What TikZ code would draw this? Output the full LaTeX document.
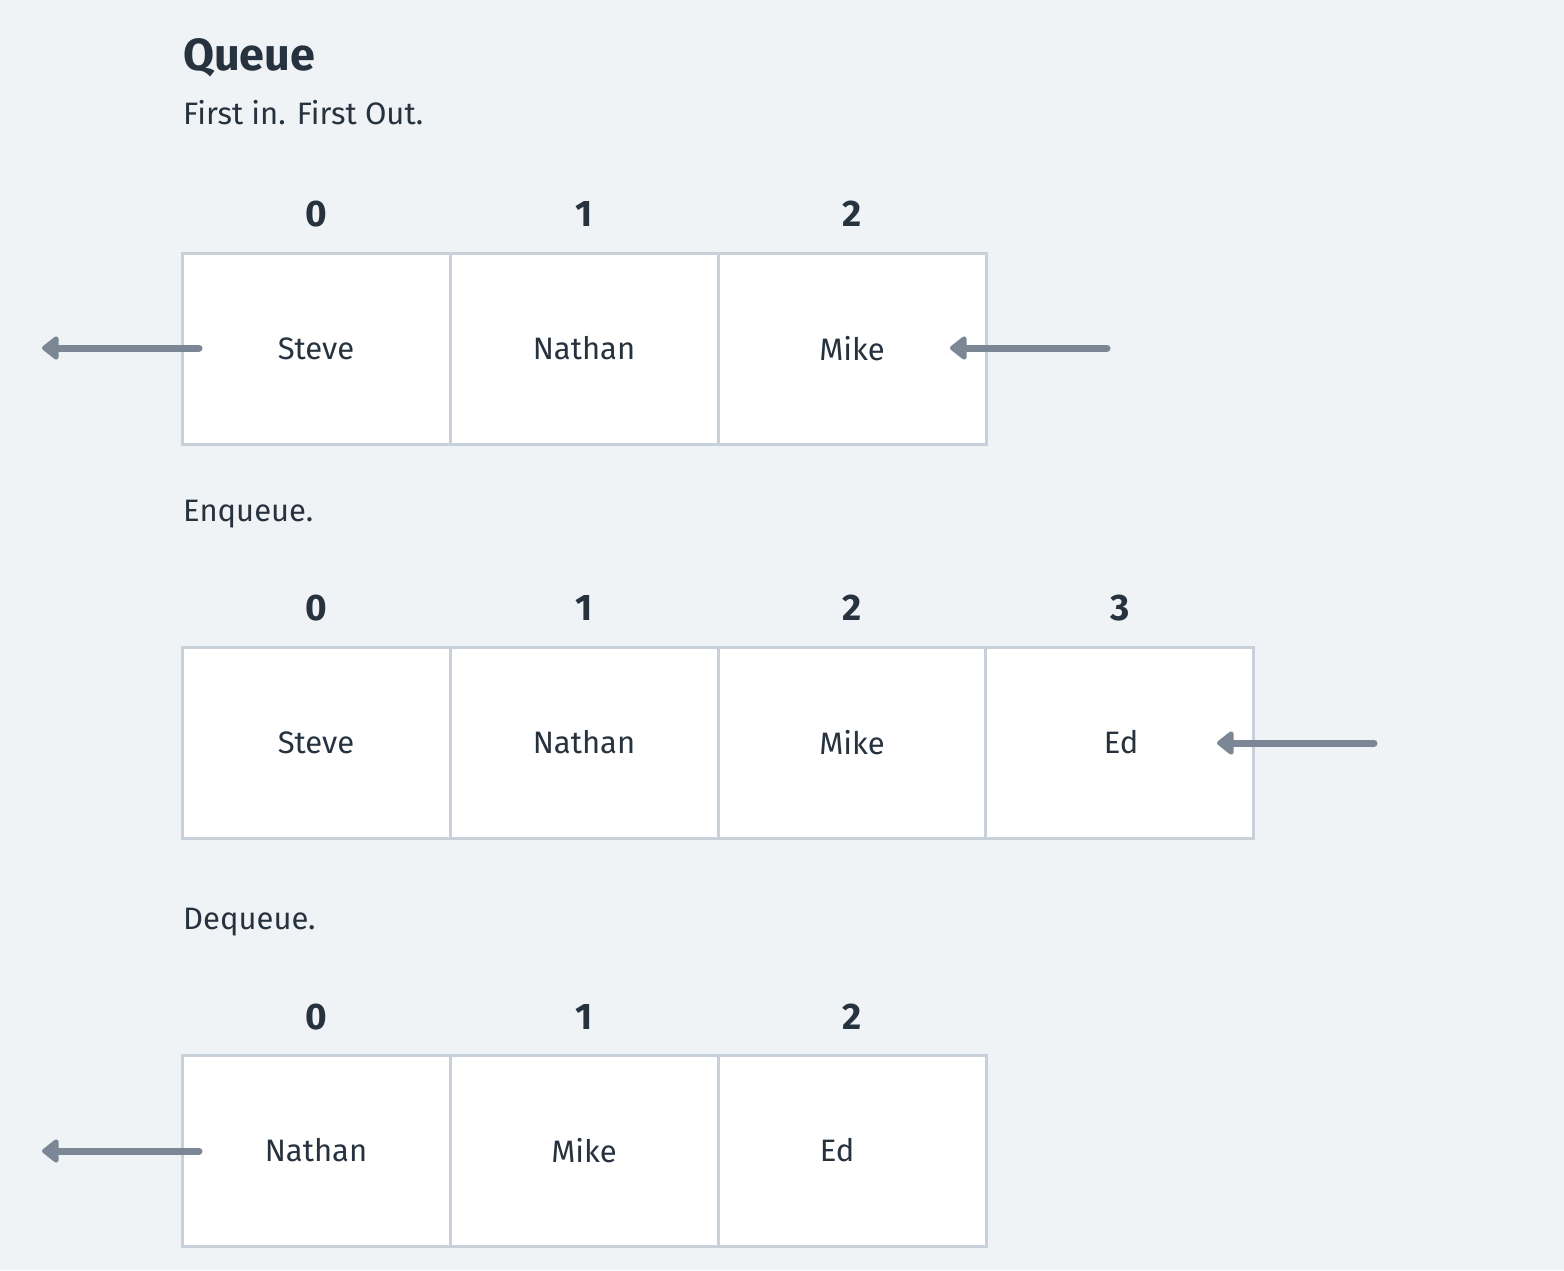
\documentclass[tikz,border=0pt]{standalone}
\usepackage{fontspec}
\setmainfont{Fira Sans}
\usetikzlibrary{arrows.meta}
\definecolor{bgc}{HTML}{EFF3F6}
\definecolor{cellline}{HTML}{C8D1DA}
\definecolor{txt}{HTML}{27323F}
\definecolor{arr}{HTML}{7B8794}
\tikzset{
  cell/.style={draw=cellline, line width=3pt, fill=white, minimum width=268pt, minimum height=191pt, inner sep=0pt, text=txt, font=\fontsize{31}{36}\selectfont},
  celltext/.style={text=txt, font=\fontsize{31}{36}\selectfont, inner sep=0pt},
  idx/.style={text=txt, font=\fontsize{37}{44}\selectfont\bfseries, inner sep=0pt},
  caption/.style={text=txt, font=\fontsize{31}{36}\selectfont, anchor=base west, inner sep=0pt},
  flow/.style={draw=arr, line width=7pt, line cap=round, -{Triangle[length=18pt,width=27pt,round]}},
}
\begin{document}
\begin{tikzpicture}[x=1pt,y=-1pt]
\useasboundingbox[fill=bgc] (0,0) rectangle (1564,1270);
\node[text=txt, font=\fontsize{45}{52}\selectfont\bfseries, anchor=base west, inner sep=0pt] (title) at (183,70) {Queue};
\node[caption] (sub) at (183,124) {First in. First Out.};
% row 1
\node[cell] (a0) at (316,348.5) {Steve};
\node[cell] (a1) at (584,348.5) {Nathan};
\node[cell] (a2) at (852,348.5) {Mike};
\node[idx] (ia0) at (316,214) {0};
\node[idx] (ia1) at (584,214) {1};
\node[idx] (ia2) at (852,214) {2};
\coordinate (aoutS) at (199,348);
\coordinate (aoutE) at (42,348);
\coordinate (ainS) at (1107,348);
\coordinate (ainE) at (950,348);
\draw[flow] (aoutS) -- (aoutE);
\draw[flow] (ainS) -- (ainE);
% enqueue
\node[caption] (enq) at (183,521) {Enqueue.};
\node[cell] (b0) at (316,742.5) {Steve};
\node[cell] (b1) at (584,742.5) {Nathan};
\node[cell] (b2) at (852,742.5) {Mike};
\node[cell] (b3) at (1119.5,742.5) {};
\node[celltext] (ed2) at (1121,742.5) {Ed};
\node[idx] (ib0) at (316,608) {0};
\node[idx] (ib1) at (584,608) {1};
\node[idx] (ib2) at (852,608) {2};
\node[idx] (ib3) at (1120,608) {3};
\coordinate (binS) at (1374,743);
\coordinate (binE) at (1217,743);
\draw[flow] (binS) -- (binE);
% dequeue
\node[caption] (deq) at (183,929) {Dequeue.};
\node[cell] (c0) at (316,1150.5) {Nathan};
\node[cell] (c1) at (584,1150.5) {Mike};
\node[cell] (c2) at (852,1150.5) {};
\node[celltext] (ed3) at (837,1150.5) {Ed};
\node[idx] (ic0) at (316,1017) {0};
\node[idx] (ic1) at (584,1017) {1};
\node[idx] (ic2) at (852,1017) {2};
\coordinate (coutS) at (199,1151);
\coordinate (coutE) at (42,1151);
\draw[flow] (coutS) -- (coutE);
\end{tikzpicture}
\end{document}
